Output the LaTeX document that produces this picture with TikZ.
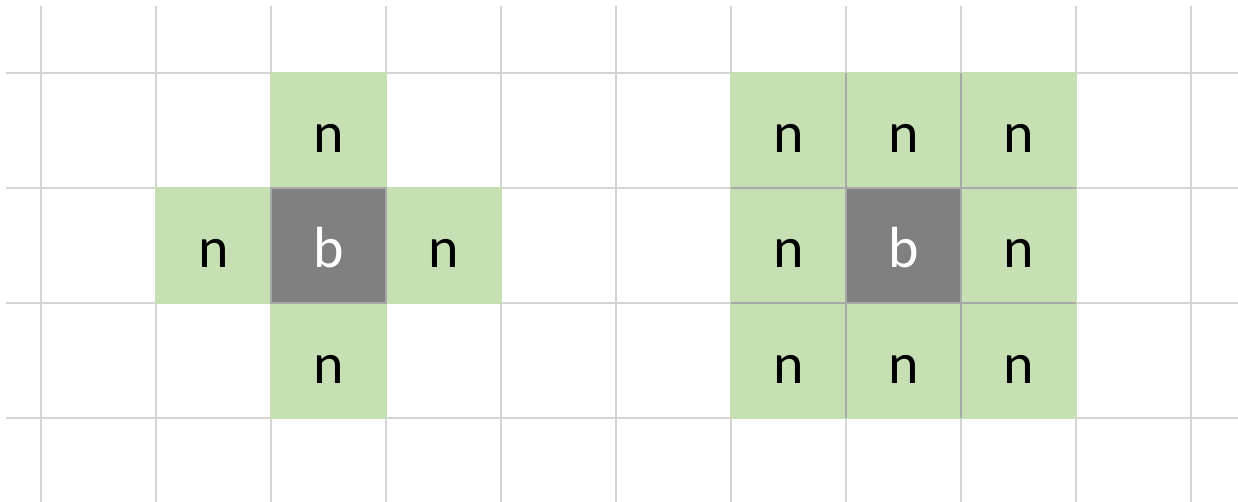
\documentclass[tikz,border=0pt]{standalone}
\usepackage{fontspec}
\setmainfont{Carlito}
\definecolor{gridgray}{HTML}{D4D4D4}
\definecolor{cellgreen}{HTML}{C6E0B4}
\definecolor{bgray}{HTML}{808080}
\definecolor{edgegray}{HTML}{A8A8A8}
\begin{document}
\begin{tikzpicture}[x=1pt,y=-1pt]
\useasboundingbox (0,0) rectangle (1238,502);
\tikzset{
  gridline/.style={draw=gridgray,line width=2.6pt},
  cell/.style={rectangle,minimum size=115pt,inner sep=0pt,outer sep=0pt,line width=2.6pt,
    text height=45pt,text depth=0pt,font=\fontsize{58}{58}\selectfont},
  ncell/.style={cell,fill=cellgreen,draw=cellgreen,text=black},
  bcell/.style={cell,fill=bgray,draw=edgegray,text=white},
  inner/.style={draw=edgegray,line width=2.6pt}
}
% background grid
\foreach \k in {0,...,10} \draw[gridline] (41+115*\k,6) -- (41+115*\k,502);
\foreach \k in {0,...,3} \draw[gridline] (6,73+115*\k) -- (1238,73+115*\k);
% left figure (4-neighbourhood)
\node[ncell] (L20) at (328.5,130.5) {n};
\node[ncell] (L11) at (213.5,245.5) {n};
\node[ncell] (L31) at (443.5,245.5) {n};
\node[ncell] (L22) at (328.5,360.5) {n};
\node[bcell] (L21) at (328.5,245.5) {b};
% right figure (8-neighbourhood)
\node[ncell] (R60) at (788.5,130.5) {n};
\node[ncell] (R70) at (903.5,130.5) {n};
\node[ncell] (R80) at (1018.5,130.5) {n};
\node[ncell] (R61) at (788.5,245.5) {n};
\node[ncell] (R81) at (1018.5,245.5) {n};
\node[ncell] (R62) at (788.5,360.5) {n};
\node[ncell] (R72) at (903.5,360.5) {n};
\node[ncell] (R82) at (1018.5,360.5) {n};
\draw[inner] (R60.north east) -- (R62.south east);
\draw[inner] (R70.north east) -- (R72.south east);
\draw[inner] (R60.south west) -- (R80.south east);
\draw[inner] (R61.south west) -- (R81.south east);
\node[bcell] (R71) at (903.5,245.5) {b};
\end{tikzpicture}
\end{document}
